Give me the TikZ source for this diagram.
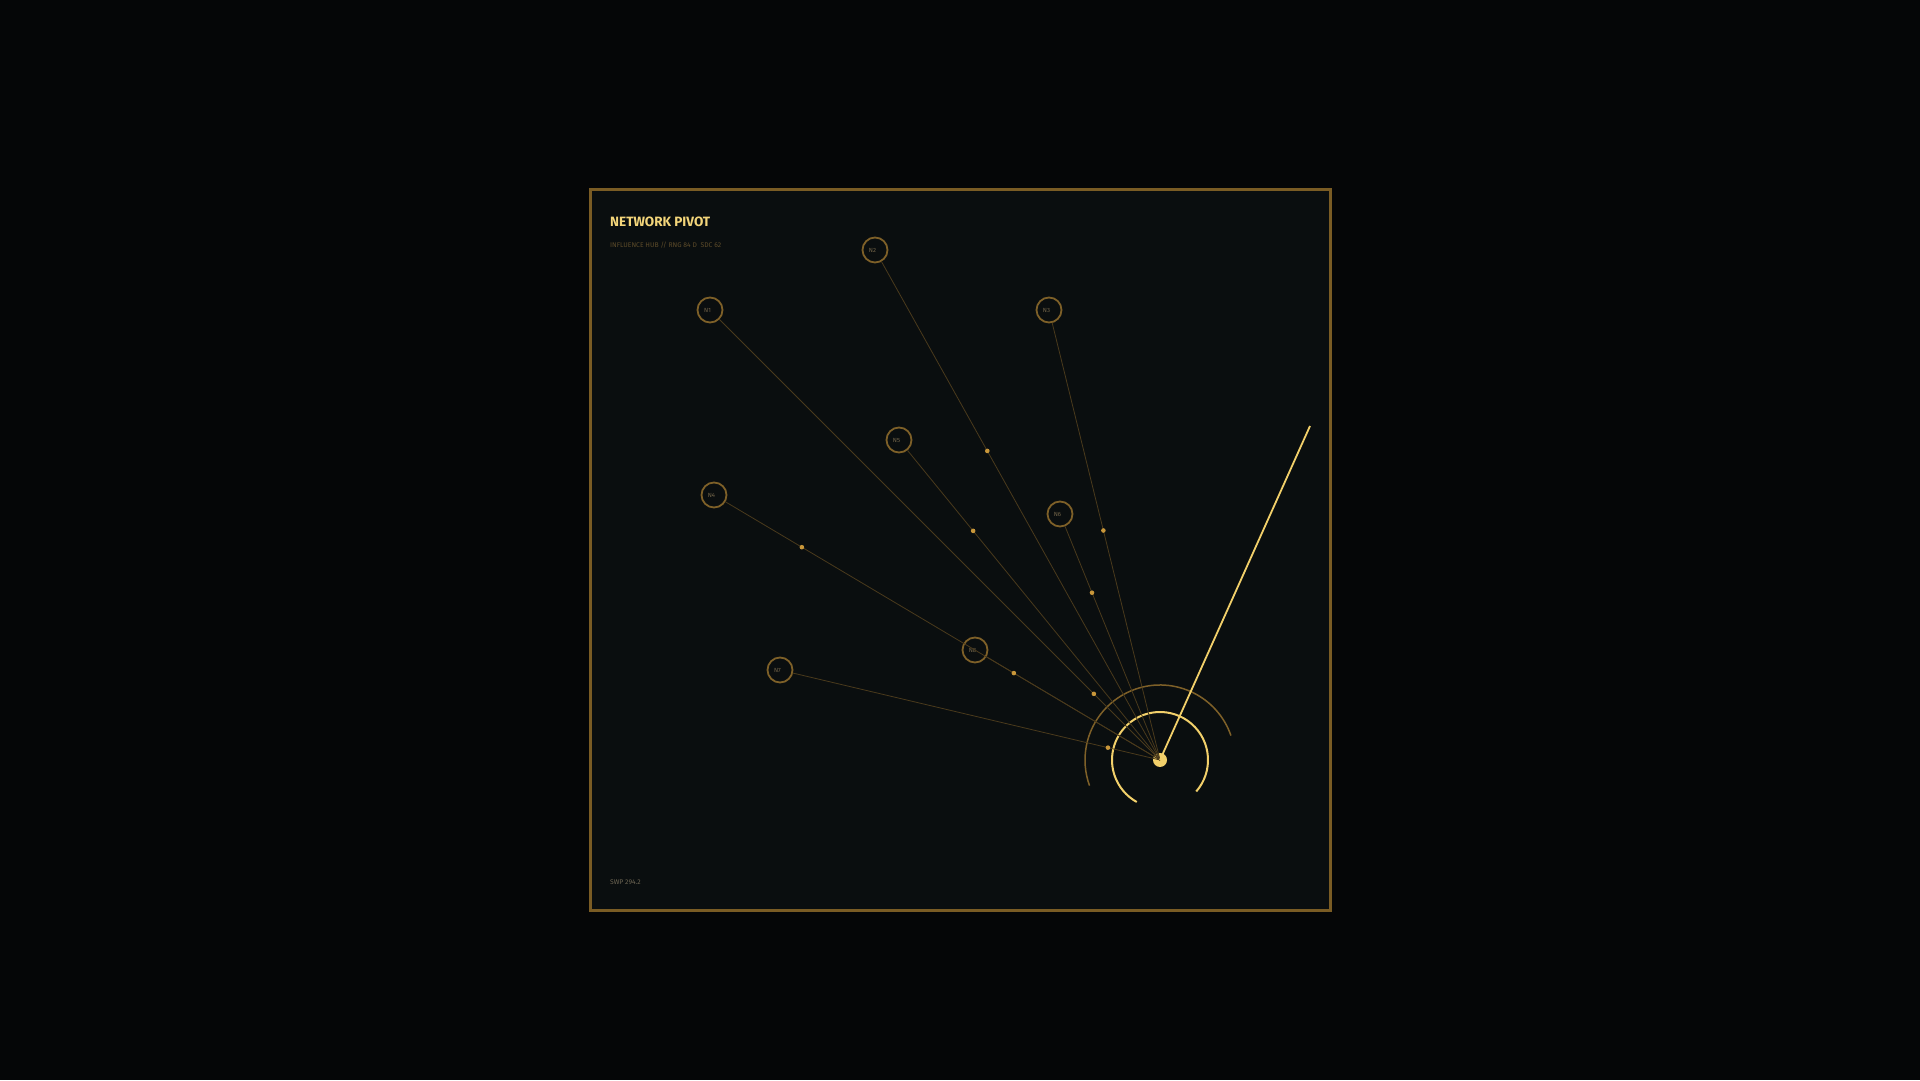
\documentclass[tikz,border=0pt]{standalone}
\usepackage{fontspec}
\setmainfont{Fira Sans}
\usetikzlibrary{calc}
\definecolor{bgdark}{HTML}{050607}
\definecolor{panel}{HTML}{0A0E0F}
\definecolor{framegold}{HTML}{7A5C24}
\definecolor{ringgold}{HTML}{7E6028}
\definecolor{linkgold}{HTML}{4A3A1C}
\definecolor{dotgold}{HTML}{C9973A}
\definecolor{brightgold}{HTML}{F2D06A}
\definecolor{titlegold}{HTML}{F3D57A}
\definecolor{subgold}{HTML}{5E4C2A}
\definecolor{footgrey}{HTML}{6E6654}
\definecolor{labelgrey}{HTML}{75664A}
\tikzset{
  peer/.style={circle, draw=ringgold, line width=1.8pt, fill=panel, minimum size=25pt,
    inner sep=0pt, font=\fontsize{6}{7}\selectfont, text=labelgrey},
  link/.style={draw=linkgold, line width=0.8pt},
}
\begin{document}
\begin{tikzpicture}[x=1pt,y=1pt]
\fill[bgdark] (0,0) rectangle (1920,1080);
\filldraw[fill=panel, draw=framegold, line width=3pt] (590,170) rectangle (1330,890);

\node[anchor=west, inner sep=0pt, text=titlegold, font=\bfseries\fontsize{13.5}{15}\selectfont] (title) at (610,858) {NETWORK PIVOT};
\node[anchor=west, inner sep=0pt, text=subgold, font=\fontsize{6.8}{8}\selectfont] (sub) at (610,835) {INFLUENCE HUB // RNG 84 D\ \ SDC 62};
\node[anchor=west, inner sep=0pt, text=footgrey, font=\fontsize{6.8}{8}\selectfont] (foot) at (610,198) {SWP 294.2};

\coordinate (hub) at (1160,320);

% rings round the hub
\draw[ringgold, line width=1.5pt] (hub) ++(19:75) arc (19:200:75);
\draw[brightgold, line width=2pt] (hub) ++(-41:48) arc (-41:241:48);
\fill[brightgold] (hub) circle (7);

% peers
\node[peer] (n1) at (710,770) {\hspace{-5pt}N1};
\node[peer] (n2) at (875,830) {\hspace{-5pt}N2};
\node[peer] (n3) at (1049,770) {\hspace{-5pt}N3};
\node[peer] (n4) at (714,585) {\hspace{-5pt}N4};
\node[peer] (n5) at (899,640) {\hspace{-5pt}N5};
\node[peer] (n6) at (1060,566) {\hspace{-5pt}N6};
\node[peer] (n7) at (780,410) {\hspace{-5pt}N7};
\node[peer] (n8) at (975,430) {\hspace{-5pt}N8};

\draw[link] (n1) -- (hub);
\draw[link] (n2) -- (hub);
\draw[link] (n3) -- (hub);
\draw[link] (n4) -- (hub);
\draw[link] (n5) -- (hub);
\draw[link] (n6) -- (hub);
\draw[link] (n7) -- (hub);
\draw[link] (n8) -- (hub);

% markers on the links
\fill[dotgold] ($(n1)!0.853!(hub)$) circle (2.3);
\fill[dotgold] ($(n2)!0.394!(hub)$) circle (2.3);
\fill[dotgold] ($(n3)!0.49!(hub)$) circle (2.3);
\fill[dotgold] ($(n4)!0.197!(hub)$) circle (2.3);
\fill[dotgold] ($(n5)!0.284!(hub)$) circle (2.3);
\fill[dotgold] ($(n6)!0.32!(hub)$) circle (2.3);
\fill[dotgold] ($(n7)!0.863!(hub)$) circle (2.3);
\fill[dotgold] ($(n8)!0.21!(hub)$) circle (2.3);

\coordinate (tip) at (1310,654);
\draw[brightgold, line width=1.8pt] (hub) -- (tip);
\end{tikzpicture}
\end{document}
